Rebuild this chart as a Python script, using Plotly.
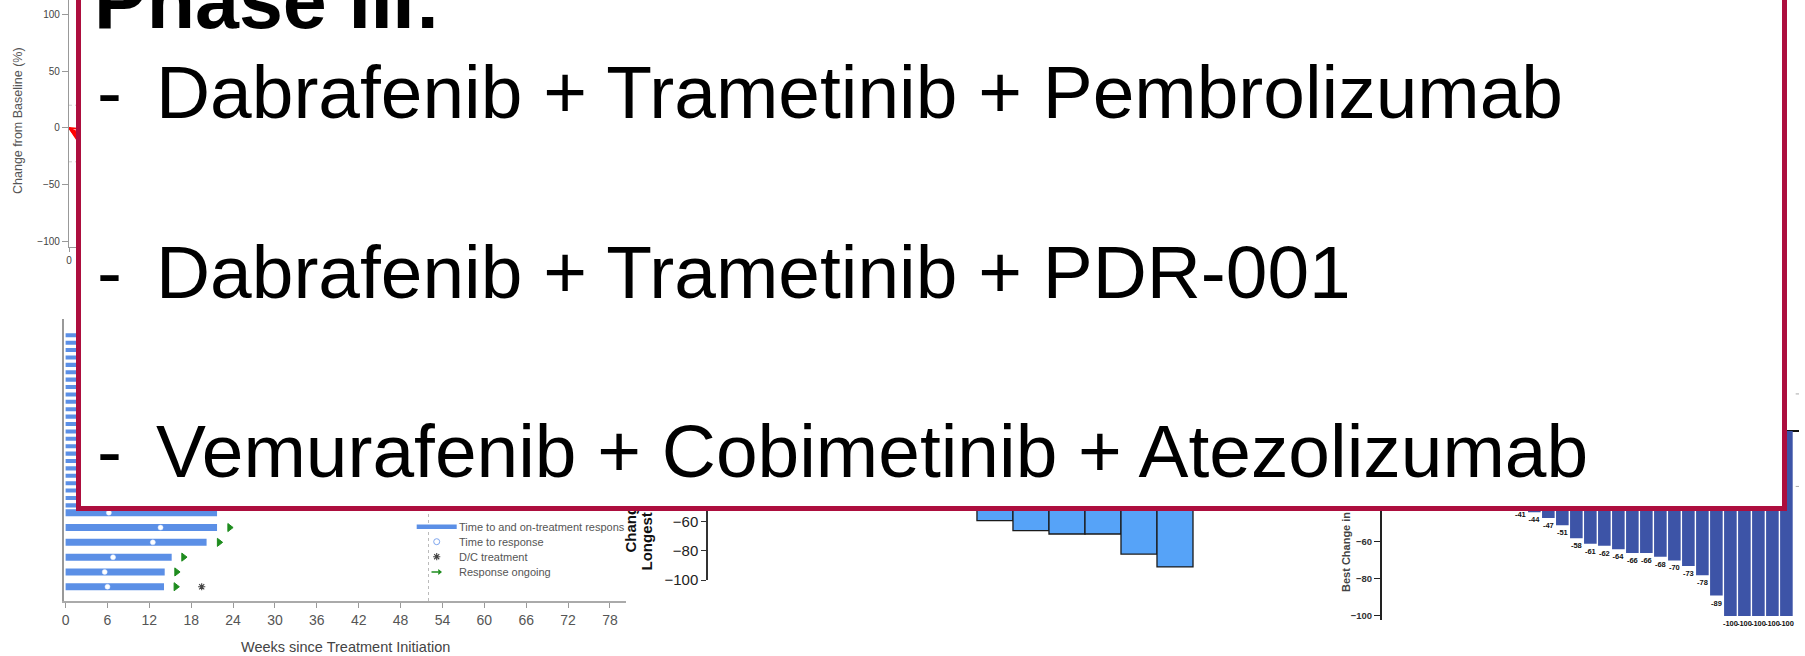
import plotly.graph_objects as go

W, H = 1805, 656

# ---------------- data ----------------
# spider plot (top-left, mostly hidden)
spider_weeks = [0, 6, 12]
spider_changes = [
    [0, -4, -12],
    [0, -21, -34],
    [0, -30, -41],
    [0, -37, -52],
    [0, -48, -60],
    [0, -55, -70],
    [0, -64, -78],
]
spider_thresholds = [20, -30]
spider_yticks = [100, 50, 0, -50, -100]
spider_xticks = [0]

# swimmer plot (bottom-left)
swim_rows_upper = [11, 12, 13, 14, 15, 16, 17, 18, 19, 20, 21, 22,
                   23, 24, 25, 26, 27, 28, 29, 30, 31, 32, 33, 34]
swim_weeks_upper = [30, 30, 29, 29, 28, 28, 28, 27, 27, 27, 26, 26,
                    26, 25, 25, 25, 24, 24, 24, 23, 23, 23, 22, 22]
swim_rows_lower = [10, 8, 6, 4, 2, 0]
swim_weeks_lower = [21.7, 21.7, 20.2, 15.2, 14.2, 14.1]
swim_response_week = [6.2, 13.6, 12.5, 6.8, 5.6, 6.0]
ongoing_rows = [8, 6, 4, 2, 0]
ongoing_week = [23.5, 22.0, 16.9, 15.9, 15.8]
dc_rows = [0]
dc_week = [19.5]
swim_xticks = [0, 6, 12, 18, 24, 30, 36, 42, 48, 54, 60, 66, 72, 78]
ref_week = 52
legend_labels = ["Time to and on-treatment respons", "Time to response",
                 "D/C treatment", "Response ongoing"]

# middle waterfall
mid_patients = [8, 9, 10, 11, 12, 13]
mid_change = [-59.5, -66.3, -68.6, -68.6, -82.3, -91.1]
mid_yticks = [-100, -80, -60]
mid_ylabel = ["Change in Sum of", "Longest Diameters (%)"]

# right waterfall
right_patients = [10, 11, 12, 13, 14, 15, 16, 17, 18, 19,
                  20, 21, 22, 23, 24, 25, 26, 27, 28, 29]
right_change = [-41, -44, -47, -51, -58, -61, -62, -64, -66, -66,
                -68, -70, -73, -78, -89, -100, -100, -100, -100, -100]
right_yticks = [-100, -80, -60]
right_thresholds = [20, -30]

# slide text
title_text = "Phase III:"
regimens = ["Dabrafenib + Trametinib + Pembrolizumab",
            "Dabrafenib + Trametinib + PDR-001",
            "Vemurafenib + Cobimetinib + Atezolizumab"]

# ---------------- helpers ----------------
def dx(a, b):
    return [a / W, b / W]

def dy(top, bottom):
    return [1 - bottom / H, 1 - top / H]

def px(x):
    return x / W

def py(y):
    return 1 - y / H

FONT = "Liberation Sans, Arial, sans-serif"
BLUE_SWIM = "#5B8FE6"
GREEN = "#1E8C1E"
fig = go.Figure()

# spider lines
for ch in spider_changes:
    fig.add_trace(go.Scatter(x=spider_weeks, y=ch, mode="lines",
                             line=dict(color="#FF0000", width=1.6),
                             xaxis="x", yaxis="y", showlegend=False, hoverinfo="skip"))

# swimmer bars
fig.add_trace(go.Bar(y=swim_rows_upper, x=swim_weeks_upper, orientation="h",
                     width=0.55, marker=dict(color=BLUE_SWIM, line=dict(width=0)),
                     xaxis="x2", yaxis="y2", showlegend=False))
fig.add_trace(go.Bar(y=swim_rows_lower, x=swim_weeks_lower, orientation="h",
                     width=0.95, marker=dict(color=BLUE_SWIM, line=dict(width=0)),
                     xaxis="x2", yaxis="y2", showlegend=False))
fig.add_trace(go.Scatter(y=swim_rows_lower, x=swim_response_week, mode="markers",
                         marker=dict(symbol="circle", size=5, color="white",
                                     line=dict(color="#DDE8FF", width=0.5)),
                         xaxis="x2", yaxis="y2", showlegend=False))
fig.add_trace(go.Scatter(y=ongoing_rows, x=ongoing_week, mode="markers",
                         marker=dict(symbol="triangle-right", size=7, color=GREEN,
                                     line=dict(color=GREEN, width=1)),
                         xaxis="x2", yaxis="y2", showlegend=False))
fig.add_trace(go.Scatter(y=dc_rows, x=dc_week, mode="markers",
                         marker=dict(symbol="asterisk-open", size=6, color="#444444",
                                     line=dict(color="#444444", width=1.1)),
                         xaxis="x2", yaxis="y2", showlegend=False))

# middle waterfall
fig.add_trace(go.Bar(x=mid_patients, y=mid_change, width=1.0,
                     marker=dict(color="#56A3F8", line=dict(color="#1A1A1A", width=1.3)),
                     xaxis="x3", yaxis="y3", showlegend=False))

# right waterfall
fig.add_trace(go.Bar(x=right_patients, y=right_change, width=0.9,
                     marker=dict(color="#3D54A7", line=dict(width=0)),
                     text=[str(v) for v in right_change], textposition="outside",
                     textfont=dict(family=FONT, size=7.5, color="#111111", weight="bold"),
                     constraintext="none", cliponaxis=False,
                     xaxis="x4", yaxis="y4", showlegend=False))

# custom legend glyphs for the swimmer plot (pixel overlay axes)
fig.add_trace(go.Scatter(x=[416.7, 456.7], y=[526.7, 526.7], mode="lines",
                         line=dict(color=BLUE_SWIM, width=4.5),
                         xaxis="x5", yaxis="y5", showlegend=False, hoverinfo="skip"))
fig.add_trace(go.Scatter(x=[436.7], y=[541.7], mode="markers",
                         marker=dict(symbol="circle", size=6, color="white",
                                     line=dict(color="#7FA6EE", width=1)),
                         xaxis="x5", yaxis="y5", showlegend=False, hoverinfo="skip"))
fig.add_trace(go.Scatter(x=[436.7], y=[556.7], mode="markers",
                         marker=dict(symbol="asterisk-open", size=6, color="#444444",
                                     line=dict(color="#444444", width=1.1)),
                         xaxis="x5", yaxis="y5", showlegend=False, hoverinfo="skip"))
fig.add_trace(go.Scatter(x=[431.5, 438.5], y=[572.0, 572.0], mode="lines",
                         line=dict(color=GREEN, width=1.5),
                         xaxis="x5", yaxis="y5", showlegend=False, hoverinfo="skip"))
fig.add_trace(go.Scatter(x=[439.5], y=[572.0], mode="markers",
                         marker=dict(symbol="triangle-right", size=5, color=GREEN,
                                     line=dict(width=0)),
                         xaxis="x5", yaxis="y5", showlegend=False, hoverinfo="skip"))

shapes = []
for t in spider_thresholds:
    shapes.append(dict(type="line", xref="x domain", yref="y", x0=0, x1=1, y0=t, y1=t,
                       line=dict(color="#CCCCCC", width=1, dash="dot"), layer="below"))
shapes.append(dict(type="line", xref="x2", yref="y2 domain", x0=ref_week, x1=ref_week,
                   y0=0, y1=1, line=dict(color="#BBBBBB", width=1, dash="dot"), layer="below"))
for t in right_thresholds:
    shapes.append(dict(type="line", xref="x4 domain", yref="y4", x0=0, x1=1, y0=t, y1=t,
                       line=dict(color="#AAAAAA", width=1, dash="dash"), layer="below"))

ann = []
def add_text(text, x, y, xanchor="center", yanchor="middle", angle=0, **font):
    ann.append(dict(text=text, xref="paper", yref="paper", x=px(x), y=py(y),
                    xanchor=xanchor, yanchor=yanchor, textangle=angle,
                    showarrow=False, borderpad=0, borderwidth=0,
                    font=dict(family=FONT, **font)))

# underlying chart labels (listed before the slide box so that the box covers them)
add_text("Change from Baseline (%)", 18, 121, angle=-90, size=12.5, color="#555555")
add_text("Weeks since Treatment Initiation", 345, 647, size=14.5, color="#444444")
for lab, yy in zip(legend_labels, [527, 542, 557, 571.5]):
    add_text(lab, 459, yy, xanchor="left", size=11, color="#555555")
add_text(mid_ylabel[0], 630, 553, yanchor="bottom", angle=-90,
         size=15, color="#111111", weight="bold")
add_text(mid_ylabel[1], 646, 571, yanchor="bottom", angle=-90,
         size=15, color="#111111", weight="bold")
add_text("Best Change in Tumor Size from Baseline (%)", 1346.0, 592, yanchor="bottom",
         angle=-90, size=11, color="#444444", weight="bold")

# slide text box
ann.append(dict(text=" ", xref="paper", yref="paper", xanchor="left", yanchor="bottom",
                x=px(76), y=py(511), width=1701, height=531, showarrow=False,
                bgcolor="white", bordercolor="#AD0E3E", borderwidth=5, borderpad=0))
add_text("<b>" + title_text + "</b>", 94, 28.3 - 0.3465 * 79, xanchor="left",
         size=79, color="black")
baselines = [118.3, 298.0, 476.7]
for txt, b in zip(regimens, baselines):
    add_text("-", 96.6, b - 0.3465 * 74.9, xanchor="left", size=74.9, color="black")
    add_text(txt, 155.8, b - 0.3465 * 74.9, xanchor="left", size=74.9, color="black")

fig.update_layout(
    width=W, height=H, margin=dict(l=0, r=0, t=0, b=0, pad=0, autoexpand=False),
    paper_bgcolor="white", plot_bgcolor="rgba(0,0,0,0)",
    barmode="overlay", showlegend=False,
    font=dict(family=FONT),
    shapes=shapes, annotations=ann,
    xaxis=dict(domain=dx(69, 700), range=[0, 78.9], anchor="y", automargin=False,
               showline=True, linecolor="#999999", linewidth=1.2,
               ticks="outside", ticklen=4, tickcolor="#999999",
               tickvals=spider_xticks, tickfont=dict(size=10, color="#444444"),
               showgrid=False, zeroline=False),
    yaxis=dict(domain=dy(0, 247), range=[-105.3, 113.0], anchor="x", automargin=False,
               showline=True, linecolor="#999999", linewidth=1.2,
               ticks="outside", ticklen=6, tickcolor="#999999",
               tickvals=spider_yticks, tickfont=dict(size=10, color="#444444"),
               showgrid=False, zeroline=False),
    xaxis2=dict(domain=dx(64, 626), range=[-0.23, 80.3], anchor="y2", automargin=False,
                showline=True, linecolor="#AAAAAA", linewidth=1.5,
                ticks="outside", ticklen=5, tickcolor="#999999",
                tickvals=swim_xticks, tickfont=dict(size=14, color="#555555"),
                showgrid=False, zeroline=False),
    yaxis2=dict(domain=dy(319, 601), range=[-1.93, 36.2], anchor="x2", automargin=False,
                showline=True, linecolor="#999999", linewidth=1.5,
                showticklabels=False, ticks="", showgrid=False, zeroline=False),
    xaxis3=dict(domain=dx(708, 1211), range=[0.03, 14.0], anchor="y3", automargin=False,
                showline=False, showticklabels=False, ticks="",
                showgrid=False, zeroline=False),
    yaxis3=dict(domain=dy(300, 580), range=[-100, 91.1], anchor="x3", automargin=False,
                showline=True, linecolor="#333333", linewidth=1.5,
                ticks="outside", ticklen=5, tickcolor="#333333",
                tickvals=mid_yticks, tickfont=dict(size=15, color="#222222"),
                showgrid=False, zeroline=False),
    xaxis4=dict(domain=dx(1381.7, 1799), range=[0.1, 29.9], anchor="y4", automargin=False,
                showline=False, showticklabels=False, ticks="",
                showgrid=False, zeroline=False),
    yaxis4=dict(domain=dy(250, 620), range=[-102.2, 97.8], anchor="x4", automargin=False,
                showline=True, linecolor="#222222", linewidth=1.5,
                ticks="outside", ticklen=6, tickcolor="#222222",
                tickvals=right_yticks,
                tickfont=dict(size=9.5, color="#333333", weight="bold"),
                showgrid=False, zeroline=True, zerolinecolor="#111111", zerolinewidth=1.5),
    xaxis5=dict(domain=[0, 1], range=[0, W], anchor="y5", visible=False, fixedrange=True),
    yaxis5=dict(domain=[0, 1], range=[H, 0], anchor="x5", visible=False, fixedrange=True),
)

fig.write_html("out.html")
